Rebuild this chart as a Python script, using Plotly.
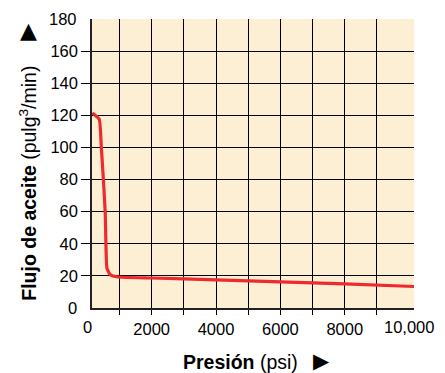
import plotly.graph_objects as go

# curve
presion = [155, 372, 434, 500, 558, 610, 713, 972, 2000, 4000, 6000, 8000, 10150]
flujo = [121.5, 117.6, 100.6, 80, 59, 24.9, 20.7, 19.3, 18.7, 17.5, 16.3, 15.0, 13.4]

x_range = [146, 10150]
x_labels = [2000, 4000, 6000, 8000]
x_grid = [1000, 2000, 3000, 4000, 5000, 6000, 7000, 8000, 9000]
x_end_vals = [0, 10000]
x_end_text = ["0", "10,000"]

y_range = [0, 180]
y_grid = [20, 40, 60, 80, 100, 120, 140, 160]
y_end_vals = [0, 180]

font = "Liberation Sans, Arial, sans-serif"
bg = "#fdefd3"

fig = go.Figure()
fig.add_trace(go.Scatter(x=presion, y=flujo, mode="lines",
                         line=dict(color="#ee2a2e", width=3.2, shape="spline", smoothing=0.4),
                         hoverinfo="skip", showlegend=False))

fig.update_layout(
    width=445, height=373,
    margin=dict(l=92, r=31, t=19, b=65),
    paper_bgcolor="white", plot_bgcolor=bg,
    font=dict(family=font, size=16.5, color="black"),
    xaxis=dict(range=x_range, tickvals=x_labels,
               ticks="outside", ticklen=5, tickcolor="black", tickwidth=1.3,
               showgrid=True, gridcolor="black", gridwidth=1.3,
               minor=dict(tickmode="array", tickvals=x_grid, ticks="outside", ticklen=5,
                          tickcolor="black", tickwidth=1.3,
                          showgrid=True, gridcolor="black", gridwidth=1.3),
               showline=True, linecolor="#222", linewidth=1.5, zeroline=False),
    yaxis=dict(range=y_range, tickvals=y_grid,
               ticks="outside", ticklen=9, tickcolor="black", tickwidth=1.3,
               showgrid=True, gridcolor="black", gridwidth=1.3,
               showline=True, linecolor="#222", linewidth=1.5, zeroline=False),
    xaxis2=dict(overlaying="x", side="top", matches="x", showticklabels=False,
                showgrid=False, showline=True, linecolor="#aaaaaa", linewidth=1.5, ticks=""),
    yaxis2=dict(overlaying="y", side="right", matches="y", showticklabels=False,
                showgrid=False, showline=True, linecolor="#666666", linewidth=2, ticks=""),
)

# end labels of the axes (outside the drawn grid)
for v, t in zip(x_end_vals, x_end_text):
    px = (v - x_range[0]) / (x_range[1] - x_range[0])
    fig.add_annotation(x=px, y=0, xref="paper", yref="paper", text=t, showarrow=False,
                       xanchor="center", yanchor="top", yshift=-8, font=dict(size=16.5))
for v in y_end_vals:
    fig.add_annotation(x=0, y=v, xref="paper", yref="y", text=str(v), showarrow=False,
                       xanchor="right", xshift=-13, font=dict(size=16.5))

# axis titles and their arrows
fig.add_annotation(x=0.46, y=0, xref="paper", yref="paper", xanchor="center", yanchor="middle",
                   yshift=-54, showarrow=False,
                   text="<b>Presión</b> (psi)", font=dict(size=19.5))
fig.add_annotation(x=0.713, y=0, xref="paper", yref="paper", xanchor="center", yanchor="middle",
                   yshift=-53, showarrow=False, text="▶",
                   font=dict(family="DejaVu Sans", size=21))
fig.add_annotation(x=0, y=0.43, xref="paper", yref="paper", xanchor="center", yanchor="middle",
                   xshift=-64, showarrow=False, textangle=-90,
                   text="<b>Flujo de aceite</b> (pulg<sup>3</sup>/min)", font=dict(size=19.5))
fig.add_annotation(x=0, y=0.96, xref="paper", yref="paper", xanchor="center", yanchor="middle",
                   xshift=-64, showarrow=False, text="▲",
                   font=dict(family="DejaVu Sans", size=22))

fig.write_html("out.html", config={"displayModeBar": False},
               post_script="document.body.style.margin='0';document.body.style.overflow='hidden';")
